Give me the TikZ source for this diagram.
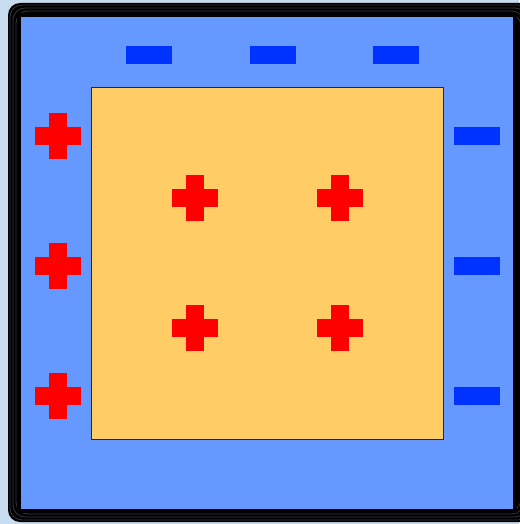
\documentclass[tikz,border=0pt]{standalone}
\definecolor{bgc}{RGB}{200,220,240}
\definecolor{framel}{RGB}{50,55,60}
\definecolor{bluec}{RGB}{102,153,255}
\definecolor{orangec}{RGB}{255,204,102}
\definecolor{plusc}{RGB}{255,0,0}
\definecolor{minusc}{RGB}{0,51,255}
\definecolor{edgec}{RGB}{40,40,40}
\begin{document}
\begin{tikzpicture}[x=1pt,y=-1pt,
  bar/.style={rectangle,inner sep=0pt,minimum width=46pt,minimum height=18pt,draw=none},
  plusbar/.style={bar,fill=plusc},
  vplusbar/.style={plusbar,minimum width=18pt,minimum height=46pt},
  minusbar/.style={bar,fill=minusc}]
\useasboundingbox (0,0) rectangle (519,524);
\fill[bgc] (0,0) rectangle (519,524);
% frame
\fill[black,rounded corners=12pt] (8,3) rectangle (532,522);
\foreach \d in {2,5,8,11}{
  \draw[framel,line width=0.8pt,rounded corners=12pt] (8+\d,3+\d) rectangle (532-\d,522-\d);
}
\fill[black] (17,13) rectangle (517,513);
\fill[bluec] (21,17) rectangle (513,509);
% inner square
\node[rectangle,draw=edgec,line width=0.8pt,fill=orangec,inner sep=0pt,minimum width=352pt,minimum height=352pt] (core) at (267,263) {};
% plus signs
\foreach \n/\x/\y in {l1/58/136,l2/58/266,l3/58/396,a/195/198,b/340/198,c/195/328,d/340/328}{
  \node[plusbar] (p\n h) at (\x,\y) {};
  \node[vplusbar] (p\n v) at (\x,\y) {};
}
% minus signs
\foreach \n/\x/\y in {t1/149/55,t2/273/55,t3/396/55,r1/477/136,r2/477/266,r3/477/396}{
  \node[minusbar] (m\n) at (\x,\y) {};
}
\end{tikzpicture}
\end{document}
